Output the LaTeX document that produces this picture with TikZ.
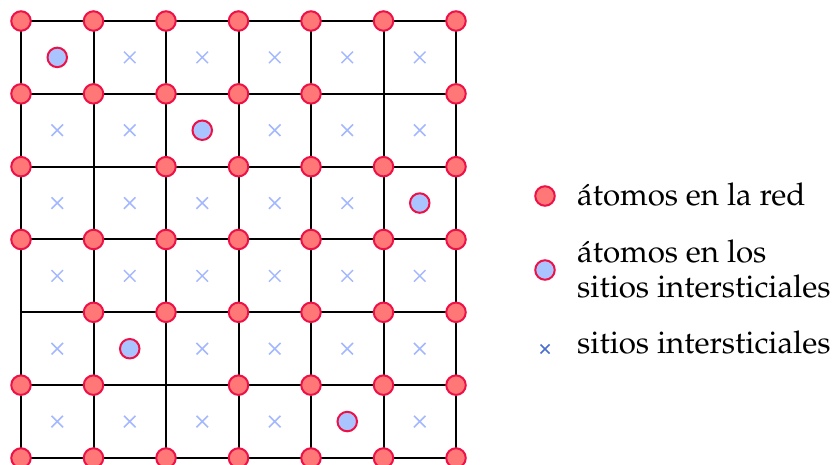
\documentclass[tikz,border=0pt]{standalone}
\usepackage[T1]{fontenc}
\usepackage{mathpazo}
\usetikzlibrary{shapes.misc}
\definecolor{atomborder}{HTML}{EE1148}
\definecolor{latfill}{HTML}{FF7777}
\definecolor{intfill}{HTML}{AAC4FF}
\definecolor{sitelight}{HTML}{A4B8FF}
\definecolor{sitedark}{HTML}{4A6FD0}
\begin{document}
\begin{tikzpicture}[x=1pt,y=-1pt,
  atom/.style={circle,draw=atomborder,line width=2pt,fill=latfill,minimum size=19.5pt,inner sep=0pt},
  inter/.style={atom,fill=intfill},
  site/.style={cross out,draw=sitelight,line width=1.5pt,minimum size=10pt,inner sep=0pt},
  legsite/.style={cross out,draw=sitedark,line width=1.5pt,minimum size=7.5pt,inner sep=0pt},
  gridline/.style={line width=2pt,black},
  label/.style={anchor=base west,inner sep=0pt,font=\fontsize{31.3}{37}\selectfont}]
\useasboundingbox (0,0) rectangle (839,465);
% lattice coordinates
\foreach \i in {0,...,6}{
  \foreach \j in {0,...,6}{
    \coordinate (p-\i-\j) at ({21+72.5*\i},{21+72.83*\j});
  }
}
% grid lines
\foreach \k in {0,...,6}{
  \draw[gridline] (p-0-\k) -- (p-6-\k);
  \draw[gridline] (p-\k-0) -- (p-\k-6);
}
% interstitial sites (cell centres)
\foreach \i in {0,...,5}{
  \foreach \j in {0,...,5}{
    \coordinate (c-\i-\j) at ({57.25+72.5*\i},{57.4+72.83*\j});
  }
}
\foreach \i/\j in {1/0,2/0,3/0,4/0,5/0,
                   0/1,1/1,3/1,4/1,5/1,
                   0/2,1/2,2/2,3/2,4/2,
                   0/3,1/3,2/3,3/3,4/3,5/3,
                   0/4,2/4,3/4,4/4,5/4,
                   0/5,1/5,2/5,3/5,5/5}{
  \node[site] (s-\i-\j) at (c-\i-\j) {};
}
% interstitial atoms
\foreach \i/\j in {0/0,2/1,5/2,1/4,4/5}{
  \node[inter] (ia-\i-\j) at (c-\i-\j) {};
}
% lattice atoms (with vacancies)
\foreach \i/\j in {0/0,1/0,2/0,3/0,4/0,5/0,6/0,
                   0/1,1/1,2/1,3/1,4/1,6/1,
                   0/2,2/2,3/2,4/2,5/2,6/2,
                   0/3,1/3,2/3,3/3,4/3,5/3,6/3,
                   1/4,2/4,3/4,4/4,5/4,6/4,
                   0/5,1/5,3/5,4/5,5/5,6/5,
                   0/6,1/6,2/6,3/6,4/6,5/6,6/6}{
  \node[atom] (a-\i-\j) at (p-\i-\j) {};
}
% legend
\node[atom] (leg1) at (545,196) {};
\node[label] (t1) at (577,206) {átomos en la red};
\node[inter] (leg2) at (545,270) {};
\node[label] (t2a) at (577,262.5) {átomos en los};
\node[label] (t2b) at (577,298) {sitios intersticiales};
\node[legsite] (leg3) at (545,349) {};
\node[label] (t3) at (577,354) {sitios intersticiales};
\end{tikzpicture}
\end{document}
